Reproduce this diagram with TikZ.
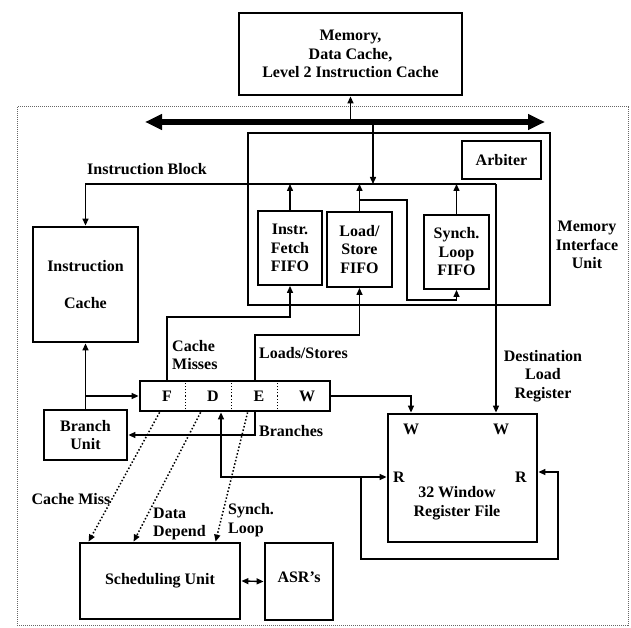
\documentclass[tikz,border=0pt]{standalone}
\usepackage{fontspec}
\setmainfont{Liberation Serif}
\usetikzlibrary{arrows.meta,calc}
\begin{document}
\begin{tikzpicture}[x=1pt,y=-1pt,
  font=\bfseries\fontsize{16}{18.5}\selectfont,
  bx/.style={draw, line width=2.8pt, inner sep=0pt, align=center},
  thinbx/.style={draw, line width=1.9pt, inner sep=0pt, align=center},
  lbl/.style={inner sep=0pt, align=center},
  lbll/.style={inner sep=0pt, align=left, anchor=west},
  arr/.style={line width=1.4pt, -{Triangle[length=7pt,width=6pt]}},
  arrb/.style={line width=1.4pt, {Triangle[length=7pt,width=6pt]}-{Triangle[length=7pt,width=6pt]}},
  dotarr/.style={line width=1.5pt, dotted, -{Triangle[length=7pt,width=6pt]}},
  bus/.style={line width=6.5pt, {Triangle[length=17pt,width=15pt]}-{Triangle[length=17pt,width=15pt]}},
]
\useasboundingbox (0,0) rectangle (631,628);
% outer dotted border
\draw[densely dotted, line width=1pt, black!60] (17,107) rectangle (628,625);

% boxes
\node[bx, minimum width=223pt, minimum height=82pt] (mem) at (350.5,54) {Memory,\\Data Cache,\\Level 2 Instruction Cache};
\node[bx, minimum width=302pt, minimum height=172pt] (miu) at (399,219) {};
\node[thinbx, minimum width=79pt, minimum height=38pt] (arb) at (501.5,160) {Arbiter};
\node[thinbx, minimum width=64pt, minimum height=74pt] (ifetch) at (290,248) {Instr.\\Fetch\\FIFO};
\node[thinbx, minimum width=65pt, minimum height=75pt] (ls) at (359.5,249.5) {Load/\\Store\\FIFO};
\node[thinbx, minimum width=65pt, minimum height=74pt] (sl) at (456.5,252) {Synch.\\Loop\\FIFO};
\node[bx, minimum width=105pt, minimum height=115pt] (icache) at (85.5,284.5) {Instruction\\[18pt]Cache};
\node[bx, minimum width=83pt, minimum height=50pt] (branch) at (85.5,435) {Branch\\Unit};
\node[bx, minimum width=190pt, minimum height=30pt] (pipe) at (235,396) {};
\node[bx, minimum width=149pt, minimum height=128pt] (regf) at (462.5,478) {};
\node[bx, minimum width=160pt, minimum height=76pt] (sched) at (160,581) {Scheduling Unit};
\node[bx, minimum width=68pt, minimum height=77pt] (asr) at (299,581.5) {};
\node[lbl] (asrtxt) at (asr.center) [yshift=4pt] {ASR's};

% pipeline stages
\foreach \dx in {47,93,139}
  \draw[dotted, line width=1.2pt] ($(pipe.south west)+(\dx,-3)$) -- ($(pipe.north west)+(\dx,3)$);
\node[lbl] (sF) at (167,396) {F};
\node[lbl] (sD) at (213,396) {D};
\node[lbl] (sE) at (259,396) {E};
\node[lbl] (sW) at (307,396) {W};

% register file labels
\node[lbl] (w1) at (411,429) {W};
\node[lbl] (w2) at (501,429) {W};
\node[lbl] (r1) at (399,477) {R};
\node[lbl] (r2) at (521,477) {R};
\node[lbl] (rftxt) at (457,503) {32 Window\\Register File};

% bus
\coordinate (busL) at (145,122);
\coordinate (busR) at (545,122);
\draw[bus] (busL) -- (busR);
\draw[arr] (mem.south |- busL) -- (mem.south);
\coordinate (ib) at (373,184);
\draw[arr] (ib |- busL) -- (ib);

% instruction block / destination load register line
\coordinate (dl) at (496,184);
\draw[arr] (dl) -| (icache.north);
\draw[arr] (dl) -- (dl |- regf.north);

% FIFO outputs
\draw[arr] (ifetch.north) -- (ifetch.north |- dl);
\draw[arr] (ls.north) -- (ls.north |- dl);
\draw[arr] (sl.north) -- (sl.north |- dl);
\coordinate (lsb) at (407,200);
\coordinate (lsb2) at (407,300);
\draw[arr] (ls.north |- lsb) -- (lsb) -- (lsb2) -| (sl.south);

% cache misses & loads/stores
\coordinate (cm) at (167,317);
\draw[arr] (cm |- pipe.north) -- (cm) -| (ifetch.south);
\coordinate (lst) at (255,335);
\draw[arr] (lst |- pipe.north) -- (lst) -| (ls.south);

% branch unit
\draw[arr] (branch.north) -- (branch.north |- icache.south);
\coordinate (bp) at (85.5,396);
\draw[arr] (bp) -- (pipe.west);
\coordinate (br) at (255,435);
\draw[arr] (br |- pipe.south) -- (br) -- (branch.east);

% writeback
\coordinate (wc) at (411,396);
\draw[arr] (pipe.east) -- (wc) -- (wc |- regf.north);

% read ports
\coordinate (dc) at (221,477);
\draw[arrb] (dc |- pipe.south) -- (dc) -- (dc -| regf.west);
\coordinate (lp1) at (361,477);
\coordinate (lp2) at (558,559);
\coordinate (rr) at (558,472);
\draw[arr] (lp1) |- (lp2) -- (rr) -- (rr -| regf.east);

% dotted to scheduling unit
\draw[dotarr] ($(pipe.south west)+(21,0)$) -- ($(sched.north west)+(10,0)$);
\draw[dotarr] ($(pipe.south west)+(62,0)$) -- ($(sched.north west)+(55,0)$);
\draw[dotarr] ($(pipe.south west)+(109,0)$) -- ($(sched.north west)+(137,0)$);
\draw[arrb] (sched.east) -- (asr.west);

% labels
\node[lbl] (tIB) at (147,169) {Instruction Block};
\node[lbll] (tCM) at (172,355) {Cache\\Misses};
\node[lbll] (tLS) at (259,353) {Loads/Stores};
\node[lbll] (tBR) at (259,431) {Branches};
\node[lbl] (tDL) at (543,376) {Destination\\Load\\Register};
\node[lbl] (tMIU) at (587,245) {Memory\\Interface\\Unit};
\node[lbl] (tCMs) at (71,499) {Cache Miss};
\node[lbll] (tDD) at (153,524) {Data\\Depend};
\node[lbll] (tSL) at (228,520) {Synch.\\Loop};
\end{tikzpicture}
\end{document}
